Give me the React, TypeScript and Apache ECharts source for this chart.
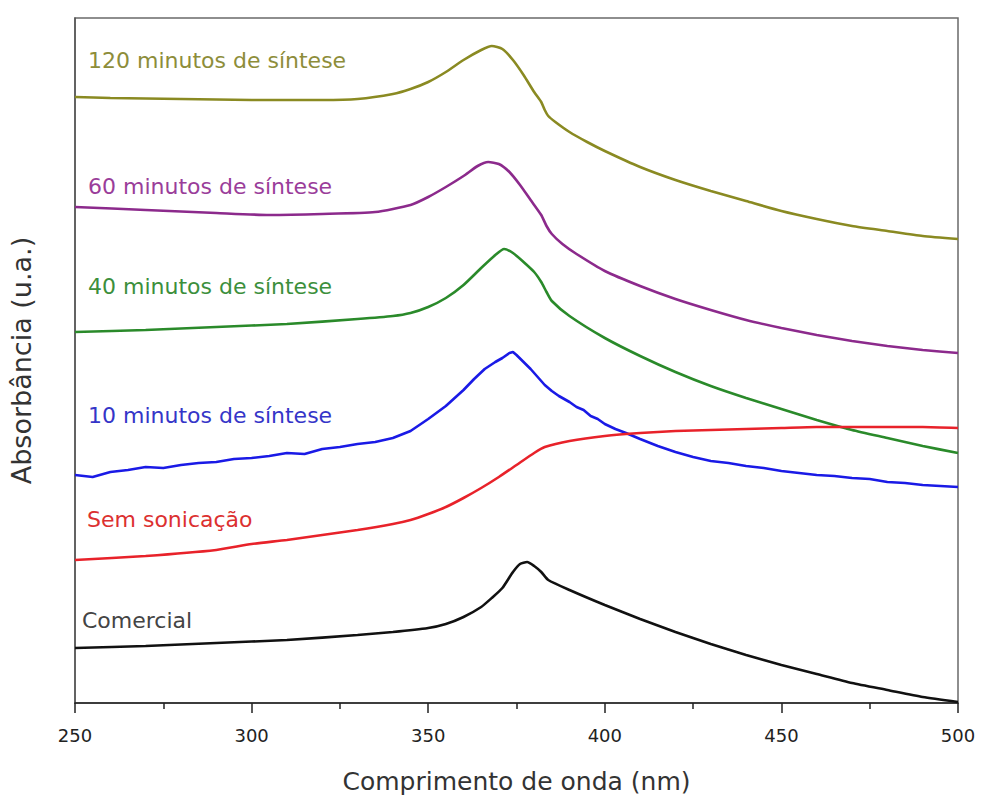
import React, { useEffect, useRef } from "react";
import * as echarts from "echarts";

// Wavelength (nm) and absorbance (arbitrary units)
const min120X = [250, 260, 280, 300, 320, 330, 340, 345, 350, 355, 360, 365, 368, 371, 374, 377, 380, 382, 383, 384, 386, 390, 395, 400, 410, 420, 430, 440, 450, 460, 470, 480, 490, 500];
const min120Y = [606, 605, 604, 603, 603, 604, 609, 614, 621, 631, 643, 653, 657, 654, 643, 628, 611, 601, 593, 587, 581, 571, 561, 552, 536, 523, 512, 502, 492, 484, 477, 472, 467, 464];

const min60X = [250, 270, 290, 305, 320, 335, 345, 350, 355, 360, 364, 367, 370, 373, 376, 379, 382, 383.5, 385, 388, 392, 400, 410, 420, 430, 440, 450, 460, 470, 480, 490, 500];
const min60Y = [496, 493, 490, 488, 489, 491, 498, 506, 516, 527, 537, 541, 539, 531, 518, 503, 488, 477, 469, 459, 449, 432, 417, 404, 393, 383, 375, 368, 362, 357, 353, 350];

const min40X = [250, 270, 290, 310, 330, 340, 345, 350, 355, 360, 365, 369, 371.5, 374, 377, 380, 382, 383.5, 385, 390, 400, 410, 420, 430, 440, 450, 460, 470, 480, 490, 500];
const min40Y = [371, 373, 376, 379, 384, 387, 390, 396, 405, 418, 435, 448, 454, 450, 441, 431, 421, 411, 402, 387, 365, 347, 331, 317, 305, 294, 283, 273, 265, 257, 250];

const min10X = [250, 255, 260, 265, 270, 275, 280, 285, 290, 295, 300, 305, 310, 315, 320, 325, 330, 335, 340, 345, 350, 355, 360, 363, 366, 369, 371, 373, 374, 375, 377, 379, 381, 383, 385, 387, 390, 392, 394, 396, 398, 400, 403, 406, 410, 415, 420, 425, 430, 435, 440, 445, 450, 455, 460, 465, 470, 475, 480, 485, 490, 495, 500];
const min10Y = [228, 226, 231, 233, 236, 235, 238, 240, 241, 244, 245, 247, 250, 249, 254, 256, 259, 261, 265, 272, 284, 297, 313, 324, 334, 341, 345, 350, 351, 348, 341, 334, 326, 318, 312, 307, 301, 296, 293, 287, 284, 279, 274, 270, 264, 257, 251, 246, 242, 240, 237, 235, 232, 230, 228, 227, 225, 224, 221, 220, 218, 217, 216];

const semSonX = [250, 270, 290, 300, 310, 320, 330, 340, 345, 350, 355, 360, 365, 370, 375, 380, 383, 390, 400, 410, 420, 430, 440, 450, 460, 470, 480, 490, 500];
const semSonY = [143, 147, 153, 159, 163, 168, 173, 179, 183, 189, 196, 205, 215, 226, 238, 250, 256, 262, 267, 270, 272, 273, 274, 275, 276, 276, 276, 276, 275];

const comercialX = [250, 270, 290, 310, 330, 340, 350, 355, 360, 365, 368, 371, 374, 376, 378, 380, 382, 384, 390, 400, 410, 420, 430, 440, 450, 460, 470, 480, 490, 500];
const comercialY = [55, 57, 60, 63, 68, 71, 75, 79, 86, 96, 105, 115, 131, 139, 141, 137, 131, 123, 113, 98, 84, 71, 59, 48, 38, 29, 20, 13, 6, 1];

const seriesNames = ["120 minutos de síntese", "60 minutos de síntese", "40 minutos de síntese", "10 minutos de síntese", "Sem sonicação", "Comercial"];
const lineColors = ["#8a8a22", "#8c2a8c", "#2a8a2a", "#1a1ae6", "#e8222a", "#111111"];
const labelColors = ["#8d8d3a", "#9a3d9a", "#3c8f3c", "#3535c8", "#dc3030", "#444444"];
const seriesX = [min120X, min60X, min40X, min10X, semSonX, comercialX];
const seriesY = [min120Y, min60Y, min40Y, min10Y, semSonY, comercialY];

const xTicks = [250, 300, 350, 400, 450, 500];

const FONT = "DejaVu Sans";

export default function App() {
  const ref = useRef<HTMLDivElement>(null);
  useEffect(() => {
    if (!ref.current) return;
    const chart = echarts.init(ref.current, undefined, { renderer: "svg" });
    // label anchor positions (left, vertical centre) in px
    const labelPos = [
      [88, 60],
      [88, 186],
      [88, 286],
      [88, 415],
      [87, 519],
      [82, 620],
    ];
    chart.setOption({
      animation: false,
      backgroundColor: "#ffffff",
      grid: {
        left: 75,
        right: 24,
        top: 18,
        bottom: 93,
        containLabel: false,
        outerBoundsMode: "none",
        show: true,
        borderColor: "#6a6a6a",
        borderWidth: 1.5,
        backgroundColor: "transparent",
      },
      xAxis: {
        type: "value",
        min: xTicks[0],
        max: xTicks[xTicks.length - 1],
        interval: 50,
        name: "Comprimento de onda (nm)",
        nameLocation: "middle",
        nameGap: 66,
        nameTextStyle: { fontFamily: FONT, fontSize: 25, color: "#333" },
        axisLine: { show: true, onZero: false, lineStyle: { color: "#222", width: 1.5 } },
        axisTick: { show: true, length: 10, lineStyle: { color: "#222", width: 1.5 } },
        minorTick: { show: true, splitNumber: 2, length: 6, lineStyle: { color: "#222", width: 1.5 } },
        axisLabel: { margin: 23, fontFamily: FONT, fontSize: 18, color: "#222" },
        splitLine: { show: false },
      },
      yAxis: {
        type: "value",
        min: 0,
        max: 685,
        name: "Absorbância (u.a.)",
        nameLocation: "middle",
        nameGap: 40,
        nameTextStyle: { fontFamily: FONT, fontSize: 27, color: "#333" },
        axisLine: { show: true, onZero: false, lineStyle: { color: "#555", width: 1.5 } },
        axisTick: { show: false },
        axisLabel: { show: false },
        splitLine: { show: false },
      },
      series: seriesNames.map((name, i) => ({
        name,
        type: "line",
        showSymbol: false,
        smooth: i === 3 ? false : 0.2,
        data: seriesX[i].map((x, j) => [x, seriesY[i][j]]),
        lineStyle: { color: lineColors[i], width: 2.6 },
        itemStyle: { color: lineColors[i] },
        z: 3,
      })),
      graphic: seriesNames.map((name, i) => ({
        type: "text",
        x: labelPos[i][0],
        y: labelPos[i][1],
        style: {
          text: name,
          fill: labelColors[i],
          font: `22px "${FONT}"`,
          textVerticalAlign: "middle",
          verticalAlign: "middle",
        },
        z: 10,
      })),
    });
    return () => chart.dispose();
  }, []);
  return (
    <div
      ref={ref}
      style={{ position: "absolute", left: 0, top: 0, width: 982, height: 796, background: "#fff" }}
    />
  );
}
